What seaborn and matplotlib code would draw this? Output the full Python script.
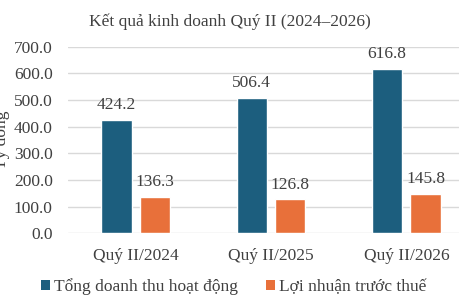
import matplotlib
matplotlib.use("Agg")
import matplotlib.pyplot as plt
import seaborn as sns
import pandas as pd

categories = ["Quý II/2024", "Quý II/2025", "Quý II/2026"]
series_names = ["Tổng doanh thu hoạt động", "Lợi nhuận trước thuế"]
revenue = [424.2, 506.4, 616.8]
profit = [136.3, 126.8, 145.8]
yticks = [0, 100, 200, 300, 400, 500, 600, 700]

df = pd.DataFrame({
    "cat": categories * 2,
    "series": [series_names[0]] * 3 + [series_names[1]] * 3,
    "value": revenue + profit,
})

sns.set_theme(style="white")
plt.rcParams["font.family"] = ["Liberation Serif", "DejaVu Serif"]
text_color = "#404040"
fs = 12.5

W, H = 460, 306
fig = plt.figure(figsize=(W / 100, H / 100), dpi=100)
left, right, top, bottom = 68, 474, 46.7, 233.3
ax = fig.add_axes([left / W, 1 - bottom / H, (right - left) / W, (bottom - top) / H])

palette = {series_names[0]: "#1C5E7E", series_names[1]: "#E8703A"}
sns.barplot(data=df, x="cat", y="value", hue="series", palette=palette,
            width=0.566, gap=0.21, ax=ax, legend=False, saturation=1)

for c in ax.containers:
    ax.bar_label(c, labels=[f"{v:.1f}" for v in c.datavalues], padding=5,
                 fontsize=fs, color=text_color)

ax.set_ylim(0, 700)
ax.set_yticks(yticks)
ax.set_yticklabels([f"{v:.1f}" for v in yticks])
ax.yaxis.grid(True, color="#D9D9D9", linewidth=1)
ax.set_axisbelow(True)
for s in ax.spines.values():
    s.set_visible(False)
ax.tick_params(axis="both", length=0, labelsize=fs, colors=text_color)
ax.tick_params(axis="y", pad=11)
ax.tick_params(axis="x", pad=10.5)
ax.set_xlabel("")
ax.set_ylabel("Tỷ đồng", fontsize=fs, color=text_color)
ax.yaxis.set_label_coords((10 - left) / (right - left), 0.5)

fig.text(230 / W, 1 - 22 / H, "Kết quả kinh doanh Quý II (2024–2026)",
         ha="center", va="center", fontsize=fs, color=text_color)

from matplotlib.patches import Patch
handles = [Patch(facecolor=palette[n], edgecolor="none") for n in series_names]
fig.legend(handles, series_names, loc="center", bbox_to_anchor=(234 / W, 1 - 287 / H),
           ncol=2, frameon=False, fontsize=fs, labelcolor=text_color,
           handlelength=0.52, handleheight=0.52, handletextpad=0.23, columnspacing=1.6)

fig.savefig("out.png", dpi=100)
